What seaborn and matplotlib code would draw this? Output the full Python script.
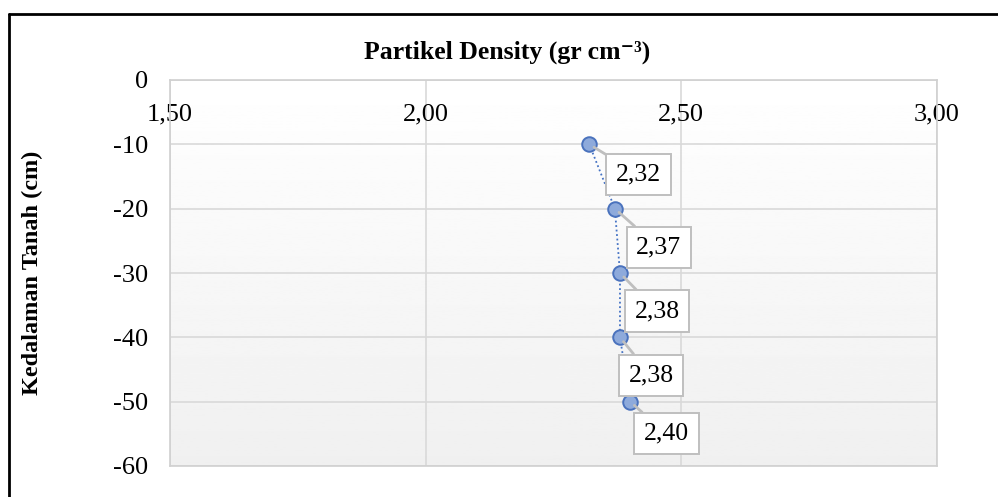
import numpy as np
import pandas as pd
import matplotlib
matplotlib.use("Agg")
import matplotlib.pyplot as plt
from matplotlib.lines import Line2D
import seaborn as sns

# ---- data ----
depth = [-10, -20, -30, -40, -50]
density = [2.32, 2.37, 2.38, 2.38, 2.40]
labels = ["2,32", "2,37", "2,38", "2,38", "2,40"]
x_ticks = [1.50, 2.00, 2.50, 3.00]
x_tick_labels = ["1,50", "2,00", "2,50", "3,00"]
y_ticks = [0, -10, -20, -30, -40, -50, -60]
y_tick_labels = ["0", "-10", "-20", "-30", "-40", "-50", "-60"]
label_offsets = [(49, -30), (44, -39), (37, -38), (31, -38), (36, -32)]  # pixels

df = pd.DataFrame({"density": density, "depth": depth})

sns.set_theme(style="white")
plt.rcParams["font.family"] = ["Liberation Serif", "DejaVu Serif"]
plt.rcParams["text.color"] = "black"

fig = plt.figure(figsize=(9.98, 4.97), dpi=100)
ax = fig.add_axes([170/998, 1-466/497, (937-170)/998, (466-80)/497])

# gradient background
grad = np.linspace(1.0, 0.94, 256).reshape(-1, 1)
ax.imshow(grad, cmap="gray", vmin=0, vmax=1, extent=[1.5, 3.0, -60, 0],
          aspect="auto", zorder=0, origin="upper")

ax.set_xlim(1.5, 3.0)
ax.set_ylim(-60, 0)
ax.set_xticks(x_ticks)
ax.set_xticklabels(x_tick_labels)
ax.set_yticks(y_ticks)
ax.set_yticklabels(y_tick_labels)

ax.grid(True, color="#d9d9d9", linewidth=1.2, zorder=1)
ax.set_axisbelow(True)
for s in ax.spines.values():
    s.set_color("#d0d0d0")
    s.set_linewidth(1.2)

ax.tick_params(axis="x", top=False, bottom=False, labeltop=True, labelbottom=False,
               pad=-33, labelsize=19, length=0, labelcolor="black")
ax.tick_params(axis="y", left=False, labelsize=19, length=0, pad=16, labelcolor="black")

sns.lineplot(data=df, x="density", y="depth", estimator=None, sort=False, ax=ax,
             color="#4472c4", linestyle=(0, (1, 1.5)), linewidth=1.3, zorder=3)
sns.scatterplot(data=df, x="density", y="depth", ax=ax, s=110, color="#8eaadb",
                edgecolor="#4a72bd", linewidth=1.4, zorder=4)

for xv, yv, lab, (dx, dy) in zip(density, depth, labels, label_offsets):
    ax.annotate(lab, xy=(xv, yv), xytext=(dx * 0.72, dy * 0.72),
                textcoords="offset points", ha="center", va="center", fontsize=18.5,
                color="black",
                bbox=dict(boxstyle="square,pad=0.38", fc="white", ec="#bfbfbf", lw=1.4),
                arrowprops=dict(arrowstyle="-", color="#bfbfbf", lw=2.0,
                                shrinkA=0, shrinkB=4), zorder=5)

ax.set_xlabel("")
ax.set_ylabel("Kedalaman Tanah (cm)", fontsize=17.5, fontweight="bold", labelpad=50,
              color="black")
fig.text((365+650)/2/998, 1-52/497, "Partikel Density (gr cm\u207b\u00b3)",
         ha="center", va="center", fontsize=18.5, fontweight="bold", color="black")

# outer frame (left and top edges visible)
fig.add_artist(Line2D([9/998, 9/998], [0, 1-14/497], color="black", lw=2,
                      transform=fig.transFigure))
fig.add_artist(Line2D([9/998, 1], [1-14/497, 1-14/497], color="black", lw=2,
                      transform=fig.transFigure))

fig.savefig("out.png", dpi=100)
